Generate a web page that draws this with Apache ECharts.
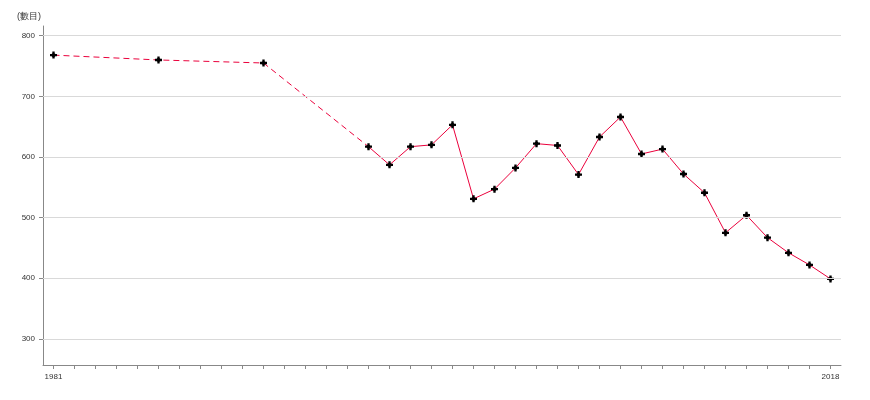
<!DOCTYPE html>
<html>
<head>
<meta charset="utf-8">
<script src="https://cdn.jsdelivr.net/npm/echarts@6/dist/echarts.min.js"></script>
<style>html,body{margin:0;padding:0;background:#fff}#c{width:870px;height:400px}</style>
</head>
<body>
<div id="c"></div>
<script>
const years = [];
for (let y = 1981; y <= 2018; y++) years.push(String(y));
const xLabelsShown = ['1981', '2018'];
const yTicks = [300, 400, 500, 600, 700, 800];
const unitLabel = '(數目)';
// sparse early observations (joined by dashed line)
const earlyYears = ['1981', '1986', '1991', '1996'];
const earlyValues = [768, 760, 755, 617];
// annual observations from 1996
const annualYears = ['1996','1997','1998','1999','2000','2001','2002','2003','2004','2005','2006','2007','2008','2009','2010','2011','2012','2013','2014','2015','2016','2017','2018'];
const annualValues = [617, 587, 617, 620, 653, 531, 547, 582, 622, 619, 571, 633, 666, 605, 613, 572, 541, 475, 504, 467, 442, 422, 399];

function toSeries(ys, vs) {
  const m = {};
  ys.forEach((y, i) => m[y] = vs[i]);
  return years.map(y => (y in m ? m[y] : null));
}

const chart = echarts.init(document.getElementById('c'));
const lineColor = '#ea003c';
const font = 'Liberation Sans, Arial, sans-serif';
chart.setOption({
  animation: false,
  graphic: [{
    type: 'text', left: 17, top: 12,
    style: { text: unitLabel, fontSize: 9, fill: '#333', font: '9px "Noto Sans CJK TC", sans-serif' }
  }],
  grid: { left: 43, right: 29, top: 26, bottom: 35, containLabel: false },
  xAxis: {
    type: 'category',
    data: years,
    boundaryGap: true,
    axisLine: { show: true, lineStyle: { color: '#888', width: 1 } },
    axisTick: { show: true, alignWithLabel: true, interval: 0, length: 4, lineStyle: { color: '#888', width: 1 } },
    axisLabel: {
      show: true, interval: 0, margin: 8, fontSize: 8, color: '#333', fontFamily: font,
      formatter: v => (xLabelsShown.indexOf(v) >= 0 ? v : '')
    },
    splitLine: { show: false }
  },
  yAxis: {
    type: 'value',
    min: 257, max: 816,
    axisLine: { show: true, lineStyle: { color: '#888', width: 1 } },
    axisTick: { show: true, length: 4, customValues: yTicks, lineStyle: { color: '#888', width: 1 } },
    axisLabel: { show: true, margin: 8, fontSize: 8, color: '#333', fontFamily: font, customValues: yTicks },
    splitLine: { show: false }
  },
  series: [
    {
      type: 'line',
      data: toSeries(earlyYears, earlyValues),
      connectNulls: true,
      symbol: 'none',
      lineStyle: { color: lineColor, width: 1, type: [6, 4] },
      markLine: {
        silent: true, symbol: 'none', label: { show: false },
        lineStyle: { color: '#d9d9d9', type: 'solid', width: 1 },
        data: yTicks.map(v => ({ yAxis: v }))
      },
      z: 2
    },
    {
      type: 'line',
      data: toSeries(annualYears, annualValues),
      symbol: 'none',
      lineStyle: { color: lineColor, width: 1 },
      z: 3
    },
    {
      type: 'scatter',
      data: toSeries(earlyYears.concat(annualYears), earlyValues.concat(annualValues)),
      symbol: 'path://M2,0 L4,0 L4,1.4 L4.6,2 L6,2 L6,4 L4.6,4 L4,4.6 L4,6 L2,6 L2,4.6 L1.4,4 L0,4 L0,2 L1.4,2 L2,1.4 Z',
      symbolSize: 7,
      itemStyle: { color: '#000', opacity: 1 },
      z: 4
    }
  ]
});
</script>
</body>
</html>
